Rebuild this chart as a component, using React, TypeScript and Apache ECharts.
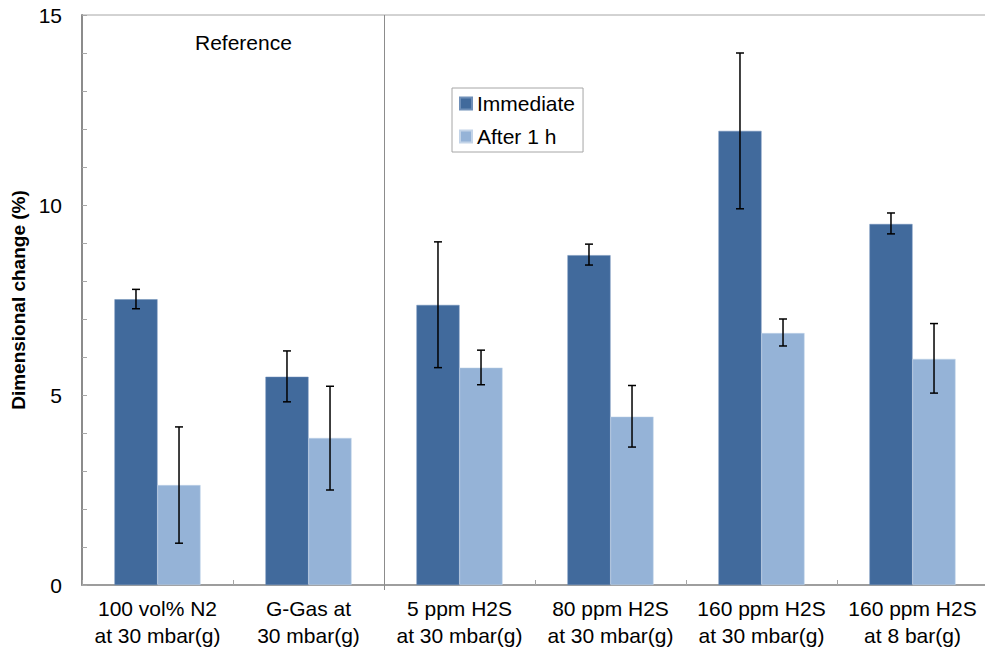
import React, { useEffect, useRef } from "react";
import * as echarts from "echarts";

const categories = [
  "100 vol% N2\nat 30 mbar(g)",
  "G-Gas at\n30 mbar(g)",
  "5 ppm H2S\nat 30 mbar(g)",
  "80 ppm H2S\nat 30 mbar(g)",
  "160 ppm H2S\nat 30 mbar(g)",
  "160 ppm H2S\nat 8 bar(g)",
];
const seriesNames = ["Immediate", "After 1 h"];
const immediate = [7.52, 5.48, 7.37, 8.68, 11.95, 9.5];
const immediateLow = [7.27, 4.82, 5.72, 8.42, 9.9, 9.24];
const immediateHigh = [7.78, 6.16, 9.03, 8.97, 14.0, 9.79];
const after1h = [2.63, 3.87, 5.72, 4.43, 6.63, 5.95];
const after1hLow = [1.1, 2.5, 5.27, 3.63, 6.29, 5.05];
const after1hHigh = [4.16, 5.23, 6.18, 5.25, 7.0, 6.88];
const yTicks = { min: 0, max: 15, interval: 5 };
const separatorAfterIndex = 1;
const annotation = "Reference";

const FONT = "'Liberation Sans', Arial, sans-serif";
const BAR_FRAC = 0.285;

function errorSeries(low: number[], high: number[], side: number) {
  return {
    type: "custom",
    name: "err" + side,
    silent: true,
    z: 5,
    data: low.map((l, i) => [i, l, high[i]]),
    renderItem: (params: any, api: any) => {
      const idx = api.value(0);
      const band = api.size([1, 0])[0];
      const pLow = api.coord([idx, api.value(1)]);
      const pHigh = api.coord([idx, api.value(2)]);
      const x = pLow[0] + side * band * BAR_FRAC * 0.5;
      const cap = 4;
      const style = { stroke: "#000", lineWidth: 1.5 };
      return {
        type: "group",
        children: [
          { type: "line", shape: { x1: x, y1: pLow[1], x2: x, y2: pHigh[1] }, style },
          { type: "line", shape: { x1: x - cap, y1: pLow[1], x2: x + cap, y2: pLow[1] }, style },
          { type: "line", shape: { x1: x - cap, y1: pHigh[1], x2: x + cap, y2: pHigh[1] }, style },
        ],
      };
    },
  };
}

const separatorSeries = {
  type: "custom",
  name: "separator",
  silent: true,
  z: 1,
  data: [[separatorAfterIndex]],
  renderItem: (params: any, api: any) => {
    const idx = api.value(0);
    const band = api.size([1, 0])[0];
    const pBottom = api.coord([idx, yTicks.min]);
    const pTop = api.coord([idx, yTicks.max]);
    const x = Math.round(pBottom[0] + band / 2) + 0.5;
    return {
      type: "line",
      shape: { x1: x, y1: pTop[1], x2: x, y2: pBottom[1] + 5 },
      style: { stroke: "#8c8c8c", lineWidth: 1 },
    };
  },
};

export default function App() {
  const ref = useRef<HTMLDivElement>(null);
  useEffect(() => {
    if (!ref.current) return;
    const chart = echarts.init(ref.current, undefined, { renderer: "svg" });
    chart.setOption({
      animation: false,
      textStyle: { fontFamily: FONT },
      grid: {
        left: 82,
        top: 15,
        right: -3,
        bottom: 65,
        outerBoundsMode: "none",
        containLabel: false,
        show: true,
        borderColor: "#a6a6a6",
        borderWidth: 1,
      },
      legend: {
        data: seriesNames,
        orient: "vertical",
        left: 452,
        top: 88,
        itemWidth: 12,
        itemHeight: 12,
        itemGap: 12,
        padding: [5, 8, 5, 7],
        borderColor: "#a6a6a6",
        borderWidth: 1,
        icon: "rect",
        textStyle: { fontSize: 21, color: "#000", fontFamily: FONT },
      },
      graphic: [
        {
          type: "text",
          left: 195,
          top: 32,
          style: { text: annotation, fontSize: 21, fill: "#000", fontFamily: FONT },
        },
      ],
      xAxis: {
        type: "category",
        data: categories,
        boundaryGap: true,
        axisLine: { lineStyle: { color: "#8c8c8c", width: 1.5 } },
        axisTick: { show: true, inside: true, length: 5, lineStyle: { color: "#a6a6a6" } },
        axisLabel: {
          fontSize: 21,
          color: "#000",
          lineHeight: 27,
          margin: 10,
          interval: 0,
          fontFamily: FONT,
        },
        splitLine: { show: false },
      },
      yAxis: {
        type: "value",
        min: yTicks.min,
        max: yTicks.max,
        interval: yTicks.interval,
        name: "Dimensional change (%)",
        nameLocation: "middle",
        nameGap: 46,
        nameTextStyle: { fontSize: 19, fontWeight: "bold", color: "#000", fontFamily: FONT },
        axisLine: { show: true, lineStyle: { color: "#8c8c8c", width: 2 } },
        axisTick: { show: true, inside: true, length: 5, lineStyle: { color: "#a6a6a6" } },
        minorTick: { show: true, splitNumber: 5, length: 5, lineStyle: { color: "#a6a6a6" } },
        axisLabel: { fontSize: 21, color: "#000", margin: 20, fontFamily: FONT },
        splitLine: { show: false },
      },
      series: [
        {
          name: seriesNames[0],
          type: "bar",
          data: immediate,
          barWidth: (BAR_FRAC * 100).toFixed(1) + "%",
          barGap: "0%",
          itemStyle: { color: "#416A9C", borderColor: "#6f8fb8", borderWidth: 0.5 },
        },
        {
          name: seriesNames[1],
          type: "bar",
          data: after1h,
          barWidth: (BAR_FRAC * 100).toFixed(1) + "%",
          barGap: "0%",
          itemStyle: { color: "#95B3D7", borderColor: "#c3d4e8", borderWidth: 0.5 },
        },
        errorSeries(immediateLow, immediateHigh, -1),
        errorSeries(after1hLow, after1hHigh, 1),
        separatorSeries,
      ],
    });
    return () => chart.dispose();
  }, []);
  return <div ref={ref} style={{ width: 985, height: 650, position: "absolute", left: 0, top: 0 }} />;
}
